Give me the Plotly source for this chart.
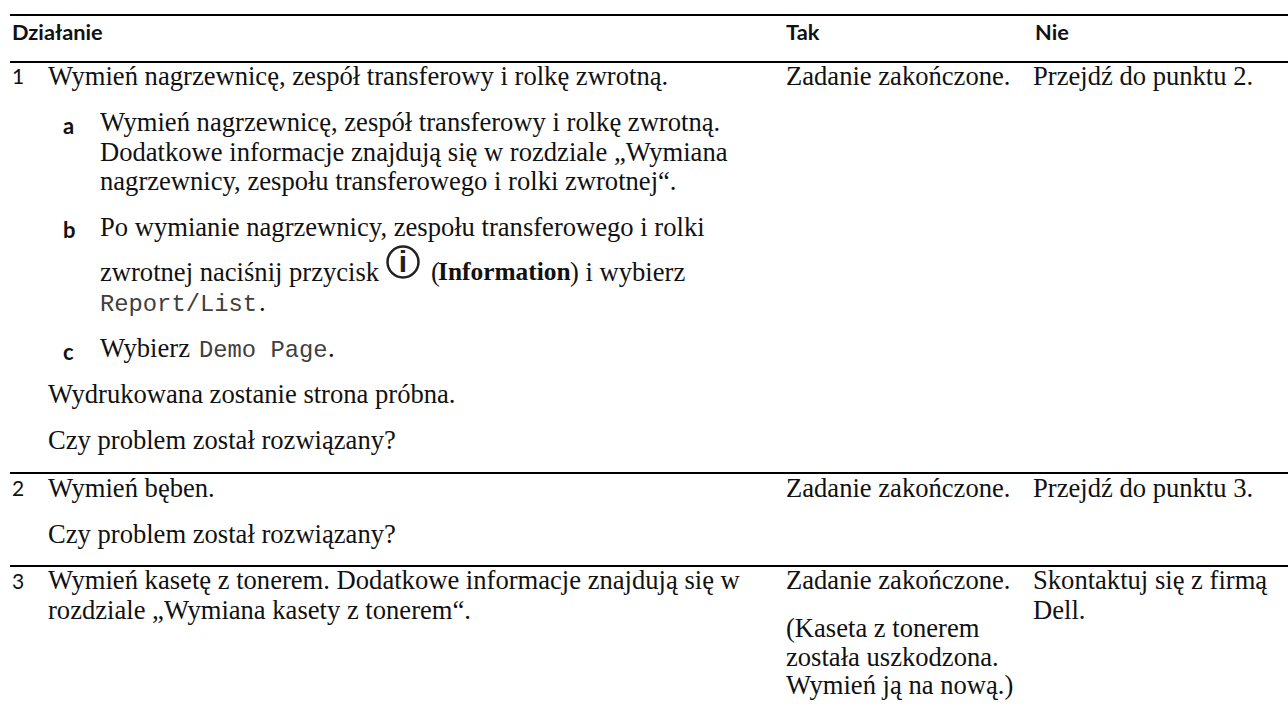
import plotly.graph_objects as go

SERIF = "Liberation Serif"
SANS = "Lato"
MONO = "Liberation Mono"

header_texts = ["Działanie", "Tak", "Nie"]
header_x = [12, 786, 1035]
header_y = [35, 35, 35]

marker_texts = ["1", "2", "3"]
marker_x = [12, 12, 12]
marker_y = [79, 491, 584]

step_texts = ["a", "b", "c"]
step_x = [63, 63, 63]
step_y = [128, 232, 354]

body_texts = [
    "Wymień nagrzewnicę, zespół transferowy i rolkę zwrotną.",
    "Wymień nagrzewnicę, zespół transferowy i rolkę zwrotną.",
    "Dodatkowe informacje znajdują się w rozdziale „Wymiana",
    "nagrzewnicy, zespołu transferowego i rolki zwrotnej“.",
    "Po wymianie nagrzewnicy, zespołu transferowego i rolki",
    "zwrotnej naciśnij przycisk",
    "(",
    ") i wybierz",
    ".",
    "Wybierz",
    ".",
    "Wydrukowana zostanie strona próbna.",
    "Czy problem został rozwiązany?",
    "Wymień bęben.",
    "Czy problem został rozwiązany?",
    "Wymień kasetę z tonerem. Dodatkowe informacje znajdują się w",
    "rozdziale „Wymiana kasety z tonerem“.",
    "Zadanie zakończone.",
    "Zadanie zakończone.",
    "Zadanie zakończone.",
    "(Kaseta z tonerem",
    "została uszkodzona.",
    "Wymień ją na nową.)",
    "Przejdź do punktu 2.",
    "Przejdź do punktu 3.",
    "Skontaktuj się z firmą",
    "Dell.",
]
body_x = [48, 100, 100, 100, 100, 100, 431, 570, 259, 100, 328, 48, 48, 48, 48, 48, 48,
          786, 786, 786, 786, 786, 786, 1033, 1033, 1033, 1033]
body_y = [78, 124, 154, 183, 229, 274, 274, 274, 304, 350, 350, 396, 442, 490, 536, 582, 612,
          78, 490, 582, 630, 659, 687, 78, 490, 582, 612]

bold_texts = ["Information"]
bold_x = [438]
bold_y = [274]

mono_texts = ["Report/List", "Demo Page"]
mono_x = [100, 199]
mono_y = [305, 351]

icon_x = [403]
icon_y = [262]
icon_glyph_x = [403]
icon_glyph_y = [264]
icon_glyph = ["i"]

rule_y = [15, 62, 473, 566]
rule_left = 10
rule_right = 1288

fig = go.Figure()

for y in rule_y:
    fig.add_trace(go.Scatter(x=[rule_left, rule_right], y=[y, y], mode="lines",
                             line=dict(color="#000000", width=2), hoverinfo="skip"))


def add_text(x, y, text, family, size, color="#111111", pos="middle right"):
    fig.add_trace(go.Scatter(x=x, y=y, text=text, mode="text", textposition=pos,
                             textfont=dict(family=family, size=size, color=color),
                             hoverinfo="skip"))


add_text(header_x, header_y, [f"<b>{t}</b>" for t in header_texts], SANS, 21.8)
add_text(marker_x, marker_y, marker_texts, SANS, 21)
add_text(step_x, step_y, [f"<b>{t}</b>" for t in step_texts], SANS, 22)
add_text(body_x, body_y, body_texts, SERIF, 26.6)
add_text(bold_x, bold_y, [f"<b>{t}</b>" for t in bold_texts], SERIF, 25.4)
add_text(mono_x, mono_y, mono_texts, MONO, 23.8, "#404040")

fig.add_trace(go.Scatter(x=icon_x, y=icon_y, mode="markers",
                         marker=dict(symbol="circle-open", size=31, color="#222222",
                                     line=dict(width=2.5, color="#222222")),
                         hoverinfo="skip"))
add_text(icon_glyph_x, icon_glyph_y, [f"<b>{t}</b>" for t in icon_glyph], "Liberation Sans", 30,
         "#222222", "middle center")

fig.update_layout(
    width=1288, height=711, margin=dict(l=0, r=0, t=0, b=0),
    paper_bgcolor="#ffffff", plot_bgcolor="#ffffff", showlegend=False,
    xaxis=dict(range=[0, 1288], visible=False, fixedrange=True),
    yaxis=dict(range=[711, 0], visible=False, fixedrange=True),
)
fig.write_html("out.html", config={"displayModeBar": False},
               post_script="document.body.style.margin='0';document.body.style.overflow='hidden';")
